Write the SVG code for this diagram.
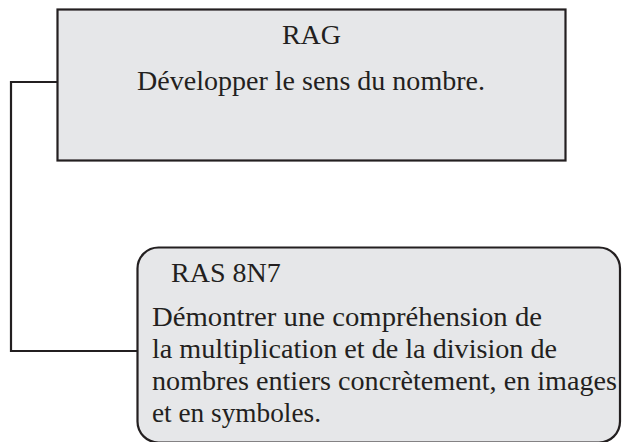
<svg xmlns="http://www.w3.org/2000/svg" width="624" height="442" viewBox="0 0 624 442">
<style>
.box{fill:#e6e7e9;stroke:#231f20;stroke-width:2.2}
.t{font-family:"Liberation Serif","Times New Roman",serif;font-size:28px;fill:#231f20}
.c{fill:none;stroke:#231f20;stroke-width:2.2}
</style>
<rect width="624" height="442" fill="#ffffff"/>
<g id="connectors">
<polyline class="c" points="57,82 11,82 11,351 137,351"/>
</g>
<g id="rag">
<rect class="box" x="57.5" y="9.5" width="508" height="151"/>
<text class="t" x="311.5" y="44" text-anchor="middle">RAG</text>
<text class="t" x="137" y="90" textLength="348" lengthAdjust="spacingAndGlyphs">Développer le sens du nombre.</text>
</g>
<g id="ras8n7">
<rect class="box" x="137.5" y="247.5" width="482.5" height="195" rx="21" ry="21"/>
<text class="t" x="171" y="282">RAS 8N7</text>
<text class="t" x="152" y="326" textLength="390" lengthAdjust="spacingAndGlyphs">Démontrer une compréhension de</text>
<text class="t" x="152" y="358" textLength="405" lengthAdjust="spacingAndGlyphs">la multiplication et de la division de</text>
<text class="t" x="152" y="390" textLength="465" lengthAdjust="spacingAndGlyphs">nombres entiers concrètement, en images</text>
<text class="t" x="152" y="422" textLength="169" lengthAdjust="spacingAndGlyphs">et en symboles.</text>
</g>
</svg>
